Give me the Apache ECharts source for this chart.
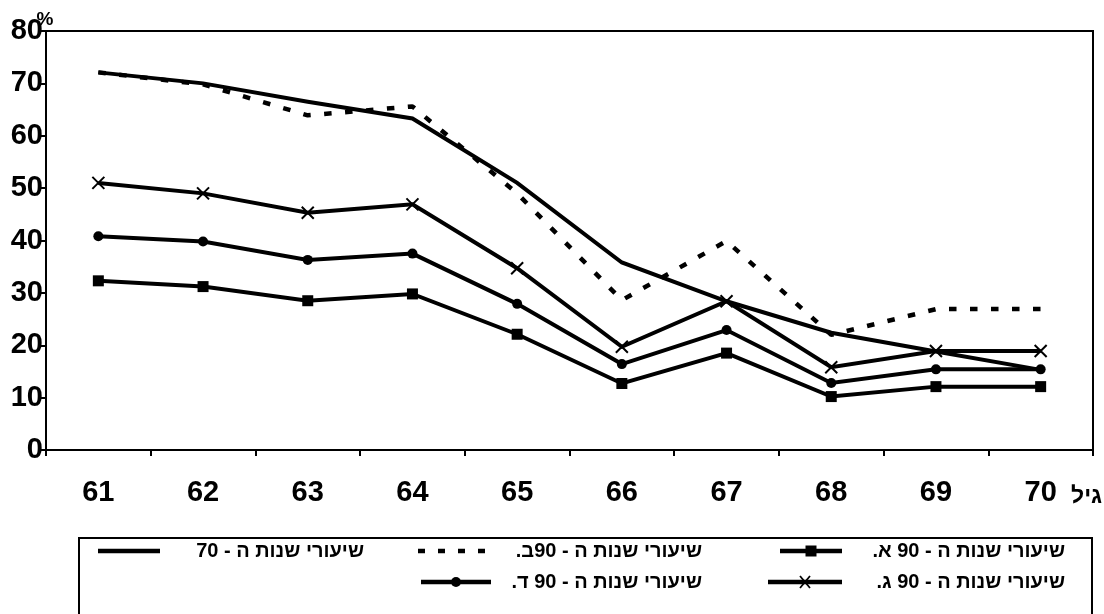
<!DOCTYPE html>
<html><head><meta charset="utf-8">
<script src="https://cdn.jsdelivr.net/npm/echarts@6/dist/echarts.min.js"></script>
<style>html,body{margin:0;padding:0;background:#fff}#c{width:1104px;height:614px}</style>
</head><body><div id="c"></div><script>
// ---- data ----
const ages = ['61','62','63','64','65','66','67','68','69','70'];
const yTicks = [0,10,20,30,40,50,60,70,80];
const seriesNames = ['שיעורי שנות ה - 70','שיעורי שנות ה - 90ב.','שיעורי שנות ה - 90 א.','שיעורי שנות ה - 90 ד.','שיעורי שנות ה - 90 ג.'];
const rates70  = [72.1, 70.0, 66.5, 63.3, 51.0, 35.8, 28.4, 22.4, 18.8, 15.3];
const rates90b = [72.1, 69.8, 63.9, 65.6, 49.0, 28.6, 39.9, 22.0, 26.9, 26.9];
const rates90a = [32.3, 31.2, 28.5, 29.8, 22.1, 12.7, 18.5, 10.2, 12.1, 12.1];
const rates90d = [40.8, 39.8, 36.3, 37.5, 27.9, 16.4, 22.9, 12.8, 15.4, 15.4];
const rates90g = [51.0, 49.0, 45.3, 46.9, 34.7, 19.7, 28.4, 15.8, 18.9, 18.9];
const unitLabel = '%';
const xAxisTitle = 'גיל';

// ---- chart ----
const FONT = "'Liberation Sans', Arial, 'DejaVu Sans', sans-serif";
const rtl = s => '\u202B' + s + '\u202C';
const CROSS = 'path://M0,0L10,10M0,10L10,0';
const LW = 4;
const chart = echarts.init(document.getElementById('c'), null, {renderer: 'canvas'});

function lineSeries(name, data, extra) {
  return Object.assign({
    name: name, type: 'line', data: data, animation: false,
    symbol: 'none', symbolSize: 11,
    lineStyle: {color: '#000', width: LW, cap: 'butt', join: 'miter'},
    itemStyle: {color: '#000'},
    emphasis: {disabled: true}
  }, extra || {});
}

// legend drawn as graphic elements
const legendSpec = [
  {i: 0, right: 364, y: 551, kind: 'solid',  x1: 98,  x2: 160},
  {i: 1, right: 702, y: 551, kind: 'dotted', x1: 418, x2: 488},
  {i: 2, right: 1065, y: 551, kind: 'square', x1: 780, x2: 842},
  {i: 3, right: 702, y: 582, kind: 'circle', x1: 421, x2: 491},
  {i: 4, right: 1065, y: 582, kind: 'cross',  x1: 768, x2: 842}
];
const graphics = [
  {type: 'rect', shape: {x: 79, y: 538, width: 1013, height: 100},
   style: {fill: 'none', stroke: '#000', lineWidth: 2}, silent: true},
  {type: 'text', x: 45, y: 20, style: {text: unitLabel, font: 'bold 19px ' + FONT, fill: '#000', align: 'center', verticalAlign: 'middle'}},
  {type: 'text', x: 1071, y: 497, style: {text: rtl(xAxisTitle), font: 'bold 23px ' + FONT, fill: '#000', align: 'left', verticalAlign: 'middle'}}
];
legendSpec.forEach(function (L) {
  const dash = L.kind === 'dotted' ? [7, 13] : null;
  graphics.push({type: 'line', shape: {x1: L.x1, y1: L.y, x2: L.x2, y2: L.y},
    style: {stroke: '#000', lineWidth: 4.5, lineDash: dash}, silent: true});
  const cx = (L.x1 + L.x2) / 2;
  if (L.kind === 'square') graphics.push({type: 'rect', shape: {x: cx - 5.5, y: L.y - 5.5, width: 11, height: 11}, style: {fill: '#000'}});
  if (L.kind === 'circle') graphics.push({type: 'circle', shape: {cx: cx, cy: L.y, r: 5}, style: {fill: '#000'}});
  if (L.kind === 'cross') graphics.push({type: 'polyline', shape: {points: [[cx-5,L.y-6],[cx+5,L.y+6]]}, style: {stroke: '#000', lineWidth: 1.8}},
                                        {type: 'polyline', shape: {points: [[cx+5,L.y-6],[cx-5,L.y+6]]}, style: {stroke: '#000', lineWidth: 1.8}});
  graphics.push({type: 'text', x: L.right, y: L.y, style: {text: rtl(seriesNames[L.i]), font: 'bold 20px ' + FONT, fill: '#000', align: 'right', verticalAlign: 'middle'}});
});

chart.setOption({
  backgroundColor: '#fff',
  animation: false,
  grid: {left: 46, right: 11, top: 31, bottom: 164, show: true, borderColor: '#000', borderWidth: 2, containLabel: false},
  xAxis: {
    type: 'category', data: ages, boundaryGap: true,
    axisLine: {lineStyle: {color: '#000', width: 2}},
    axisTick: {show: true, length: 6, lineStyle: {color: '#000', width: 2}},
    axisLabel: {color: '#000', fontFamily: FONT, fontWeight: 'bold', fontSize: 29, margin: 28},
    splitLine: {show: false}
  },
  yAxis: {
    type: 'value', min: yTicks[0], max: yTicks[yTicks.length - 1], interval: 10,
    axisLine: {show: true, lineStyle: {color: '#000', width: 2}},
    axisTick: {show: true, length: 5, lineStyle: {color: '#000', width: 2}},
    axisLabel: {color: '#000', fontFamily: FONT, fontWeight: 'bold', fontSize: 29, margin: 3},
    splitLine: {show: false}
  },
  series: [
    lineSeries(seriesNames[0], rates70),
    lineSeries(seriesNames[1], rates90b, {lineStyle: {color: '#000', width: 4.5, type: [7.5, 13.5], cap: 'butt'}}),
    lineSeries(seriesNames[2], rates90a, {symbol: 'rect', symbolSize: 11}),
    lineSeries(seriesNames[3], rates90d, {symbol: 'circle', symbolSize: 10}),
    lineSeries(seriesNames[4], rates90g, {symbol: CROSS, symbolSize: 12, itemStyle: {color: '#000', borderColor: '#000', borderWidth: 2}})
  ],
  graphic: graphics
});
</script></body></html>
